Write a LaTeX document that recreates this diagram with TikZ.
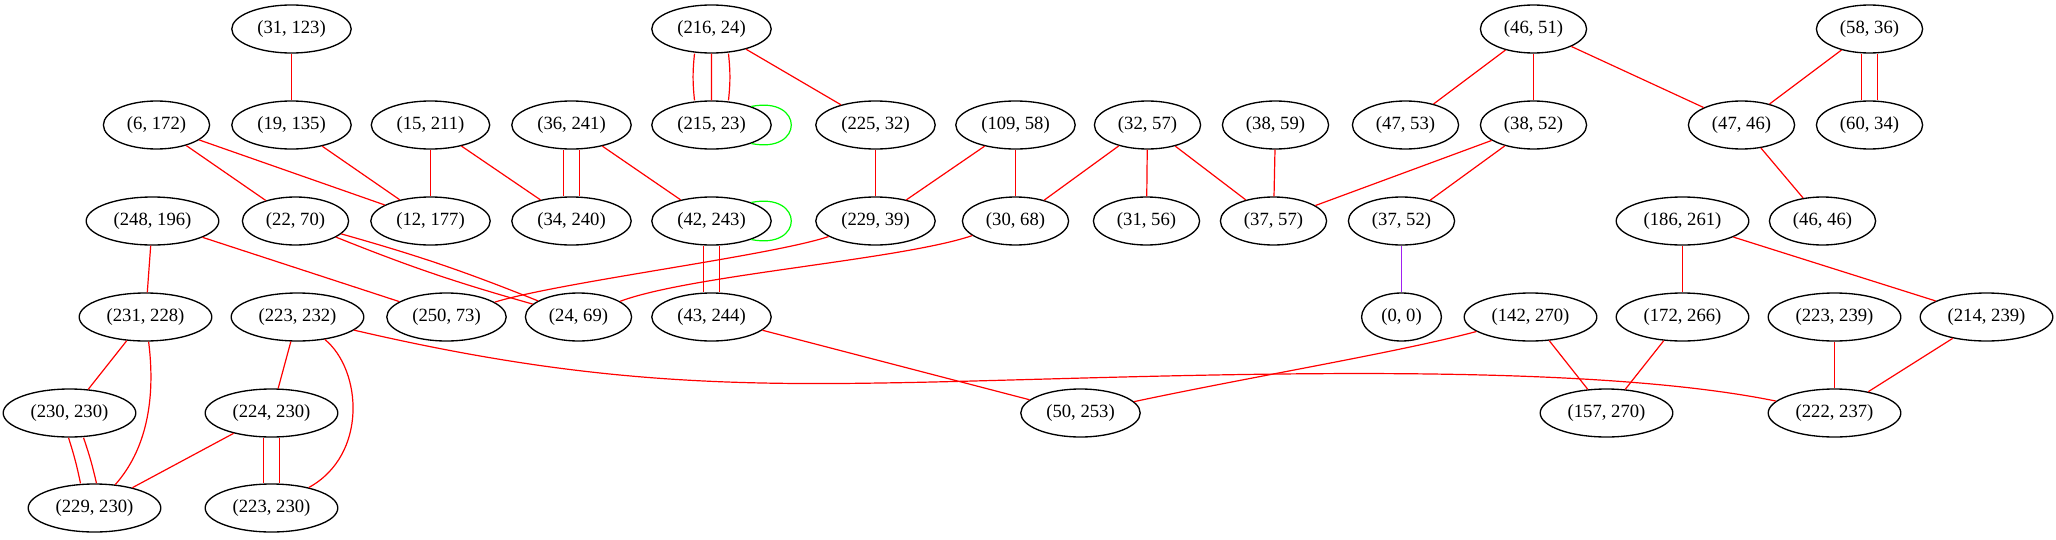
\documentclass[tikz,border=0pt]{standalone}
\usepackage{fontspec}
\setmainfont{Liberation Serif}
\usetikzlibrary{shapes.geometric}
\definecolor{edgeRed}{RGB}{255,0,0}
\definecolor{loopGreen}{RGB}{0,255,0}
\definecolor{edgePurple}{RGB}{160,32,240}
\tikzset{
  vertex/.style={ellipse, draw=black, line width=1pt, minimum height=36pt,
    inner xsep=6pt, inner ysep=2pt, font=\fontsize{14}{16}\selectfont},
  link/.style={edgeRed, line width=0.9pt},
  selfloop/.style={loopGreen, line width=0.9pt},
}

\begin{document}
\begin{tikzpicture}[x=0.75pt,y=0.75pt]
  \useasboundingbox (0,0) rectangle (2056,-539);
  % row 1
  \node[vertex] (n31-123) at (291.5,-29) {(31, 123)};
  \node[vertex] (n216-24) at (711.5,-29) {(216, 24)};
  \node[vertex] (n46-51) at (1533.5,-29) {(46, 51)};
  \node[vertex] (n58-36) at (1869.5,-29) {(58, 36)};
  % row 2
  \node[vertex] (n6-172) at (156.5,-125) {(6, 172)};
  \node[vertex] (n19-135) at (291.5,-125) {(19, 135)};
  \node[vertex] (n15-211) at (430.5,-125) {(15, 211)};
  \node[vertex] (n36-241) at (571.5,-125) {(36, 241)};
  \node[vertex] (n215-23) at (711.5,-125) {(215, 23)};
  \node[vertex] (n225-32) at (875.5,-125) {(225, 32)};
  \node[vertex] (n109-58) at (1015.5,-125) {(109, 58)};
  \node[vertex] (n32-57) at (1147.5,-125) {(32, 57)};
  \node[vertex] (n38-59) at (1275.5,-125) {(38, 59)};
  \node[vertex] (n47-53) at (1405.5,-125) {(47, 53)};
  \node[vertex] (n38-52) at (1533.5,-125) {(38, 52)};
  \node[vertex] (n47-46) at (1741.5,-125) {(47, 46)};
  \node[vertex] (n60-34) at (1869.5,-125) {(60, 34)};
  % row 3
  \node[vertex] (n248-196) at (152.5,-221) {(248, 196)};
  \node[vertex] (n22-70) at (295.5,-221) {(22, 70)};
  \node[vertex] (n12-177) at (430.5,-221) {(12, 177)};
  \node[vertex] (n34-240) at (571.5,-221) {(34, 240)};
  \node[vertex] (n42-243) at (711.5,-221) {(42, 243)};
  \node[vertex] (n229-39) at (875.5,-221) {(229, 39)};
  \node[vertex] (n30-68) at (1015.5,-221) {(30, 68)};
  \node[vertex] (n31-56) at (1146.5,-221) {(31, 56)};
  \node[vertex] (n37-57) at (1273.5,-221) {(37, 57)};
  \node[vertex] (n37-52) at (1401.5,-221) {(37, 52)};
  \node[vertex] (n186-261) at (1682.5,-221) {(186, 261)};
  \node[vertex] (n46-46) at (1822.5,-221) {(46, 46)};
  % row 4
  \node[vertex] (n231-228) at (145.5,-317) {(231, 228)};
  \node[vertex] (n223-232) at (297.5,-317) {(223, 232)};
  \node[vertex] (n250-73) at (446.5,-317) {(250, 73)};
  \node[vertex] (n24-69) at (578.5,-317) {(24, 69)};
  \node[vertex] (n43-244) at (711.5,-317) {(43, 244)};
  \node[vertex] (n0-0) at (1401.5,-317) {(0, 0)};
  \node[vertex] (n142-270) at (1530.5,-317) {(142, 270)};
  \node[vertex] (n172-266) at (1682.5,-317) {(172, 266)};
  \node[vertex] (n223-239) at (1834.5,-317) {(223, 239)};
  \node[vertex] (n214-239) at (1986.5,-317) {(214, 239)};
  % row 5
  \node[vertex] (n230-230) at (69.5,-413) {(230, 230)};
  \node[vertex] (n224-230) at (271.5,-413) {(224, 230)};
  \node[vertex] (n50-253) at (1080.5,-413) {(50, 253)};
  \node[vertex] (n157-270) at (1606.5,-413) {(157, 270)};
  \node[vertex] (n222-237) at (1834.5,-413) {(222, 237)};
  % row 6
  \node[vertex] (n229-230) at (94.5,-508) {(229, 230)};
  \node[vertex] (n223-230) at (271.5,-508) {(223, 230)};

  % single edges
  \draw[link] (n31-123) -- (n19-135);
  \draw[link] (n6-172) -- (n22-70);
  \draw[link] (n6-172) -- (n12-177);
  \draw[link] (n19-135) -- (n12-177);
  \draw[link] (n15-211) -- (n12-177);
  \draw[link] (n15-211) -- (n34-240);
  \draw[link] (n36-241) -- (n42-243);
  \draw[link] (n216-24) -- (n225-32);
  \draw[link] (n225-32) -- (n229-39);
  \draw[link] (n109-58) -- (n229-39);
  \draw[link] (n109-58) -- (n30-68);
  \draw[link] (n32-57) -- (n30-68);
  \draw[link] (n32-57) -- (n31-56);
  \draw[link] (n32-57) -- (n37-57);
  \draw[link] (n38-59) -- (n37-57);
  \draw[link] (n46-51) -- (n47-53);
  \draw[link] (n46-51) -- (n38-52);
  \draw[link] (n46-51) -- (n47-46);
  \draw[link] (n58-36) -- (n47-46);
  \draw[link] (n38-52) -- (n37-57);
  \draw[link] (n38-52) -- (n37-52);
  \draw[link] (n47-46) -- (n46-46);
  \draw[link] (n248-196) -- (n231-228);
  \draw[link] (n248-196) -- (n250-73);
  \draw[link] (n186-261) -- (n172-266);
  \draw[link] (n186-261) -- (n214-239);
  \draw[link] (n231-228) -- (n230-230);
  \draw[link] (n223-232) -- (n224-230);
  \draw[link] (n224-230) -- (n229-230);
  \draw[link] (n43-244) -- (n50-253);
  \draw[link] (n142-270) -- (n157-270);
  \draw[link] (n172-266) -- (n157-270);
  \draw[link] (n223-239) -- (n222-237);
  \draw[link] (n214-239) -- (n222-237);
  \draw[edgePurple, line width=0.9pt] (n37-52) -- (n0-0);

  % multiple edges
  \draw[link] ([xshift=-12.75pt]n216-24.south) to[bend right=6] ([xshift=-12.75pt]n215-23.north)
              (n216-24) -- (n215-23)
              ([xshift=12.75pt]n216-24.south) to[bend left=6] ([xshift=12.75pt]n215-23.north);
  \draw[link] ([xshift=-6pt]n36-241.south) -- ([xshift=-6pt]n34-240.north)
              ([xshift=6pt]n36-241.south) -- ([xshift=6pt]n34-240.north);
  \draw[link] ([xshift=-6pt]n58-36.south) -- ([xshift=-6pt]n60-34.north)
              ([xshift=6pt]n58-36.south) -- ([xshift=6pt]n60-34.north);
  \draw[link] ([xshift=-6pt]n42-243.south) -- ([xshift=-6pt]n43-244.north)
              ([xshift=6pt]n42-243.south) -- ([xshift=6pt]n43-244.north);
  \draw[link] ([xshift=-6pt]n224-230.south) -- ([xshift=-6pt]n223-230.north)
              ([xshift=6pt]n224-230.south) -- ([xshift=6pt]n223-230.north);
  \draw[link] ([xshift=-0.75pt]n230-230.south) to[bend left=3] ([xshift=-10.5pt]n229-230.north)
              ([xshift=10.5pt]n230-230.south) to[bend left=3] ([xshift=1.5pt]n229-230.north);
  \draw[link] (n22-70) to[bend left=3] (n24-69)
              (n22-70) to[bend right=3] (n24-69);

  % curved edges
  \draw[link] (n229-39) .. controls (770,-256) and (560,-282) .. (n250-73);
  \draw[link] (n30-68) .. controls (900,-260) and (690,-275) .. (n24-69);
  \draw[link] (n231-228) .. controls (156,-400) and (146,-450) .. (n229-230);
  \draw[link] (n223-232) .. controls (362,-370) and (368,-455) .. (n223-230);
  \draw[link] (n142-270) .. controls (1400,-352) and (1250,-377) .. (n50-253);
  \draw[link] (n223-232) .. controls (560,-378) and (700,-386) .. (880,-383)
              .. controls (1100,-380) and (1550,-355) .. (n222-237);

  % self loops
  \draw[selfloop] (n215-23.25) .. controls +(40pt,8pt) and +(40pt,-8pt) .. (n215-23.-25);
  \draw[selfloop] (n42-243.25) .. controls +(40pt,8pt) and +(40pt,-8pt) .. (n42-243.-25);
\end{tikzpicture}
\end{document}
